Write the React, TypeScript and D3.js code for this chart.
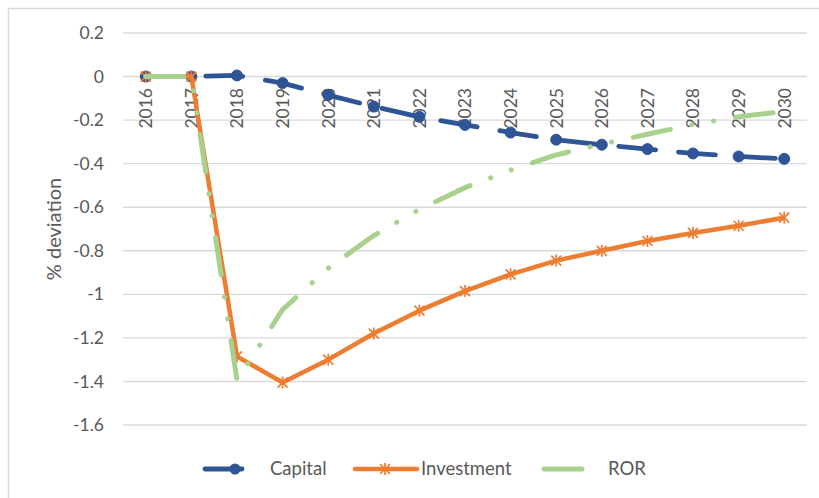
import React from 'react';
import * as d3 from 'd3';

const years = ['2016','2017','2018','2019','2020','2021','2022','2023','2024','2025','2026','2027','2028','2029','2030'];
const capital = [0, 0, 0.005, -0.03, -0.085, -0.138, -0.185, -0.222, -0.257, -0.29, -0.313, -0.333, -0.353, -0.367, -0.378];
const investment = [0, 0, -1.285, -1.405, -1.3, -1.18, -1.075, -0.985, -0.908, -0.845, -0.8, -0.755, -0.718, -0.685, -0.648];
const ror = [0, 0, -1.395, -1.07, -0.88, -0.73, -0.61, -0.51, -0.43, -0.36, -0.31, -0.265, -0.22, -0.185, -0.16];
const yTicks = [0.2, 0, -0.2, -0.4, -0.6, -0.8, -1, -1.2, -1.4, -1.6];
const seriesNames = ['Capital', 'Investment', 'ROR'];

const W = 819, H = 498;
const FONT = 'Lato, "Open Sans", sans-serif';
const GRAY = '#595959';
const BLUE = '#2F5597', ORANGE = '#ED7D31', GREEN = '#A9D18E';

export default function App() {
  const x = d3.scaleBand<string>().domain(years).range([123, 807]);
  const cx = (y: string) => (x(y) as number) + x.bandwidth() / 2;
  const y = d3.scaleLinear().domain([-1.6, 0.2]).range([425, 33]);

  const mk = (vals: number[]) =>
    d3.line<number>().x((_, i) => cx(years[i])).y((v) => y(v))(vals) as string;

  const star = (px: number, py: number, s: number, key: string | number) => (
    <g key={key} stroke={ORANGE} strokeWidth={1.7} fill="none">
      <line x1={px - s} y1={py - s} x2={px + s} y2={py + s} />
      <line x1={px - s} y1={py + s} x2={px + s} y2={py - s} />
      <line x1={px} y1={py - s * 1.2} x2={px} y2={py + s * 1.2} />
    </g>
  );

  const legY = 469;

  return (
    <svg width={W} height={H} style={{ position: 'absolute', left: 0, top: 0, display: 'block', background: '#fff' }}
      fontFamily={FONT}>
      <rect x={0} y={0} width={W} height={H} fill="#fff" />
      <rect x={8.5} y={8.5} width={W + 20} height={H + 20} fill="none" stroke="#D9D9D9" strokeWidth={1.5} />

      {/* gridlines */}
      {yTicks.map((t) => (
        <line key={'g' + t} x1={123} x2={807} y1={y(t)} y2={y(t)} stroke="#D9D9D9" strokeWidth={1.4} />
      ))}

      {/* y tick labels */}
      {yTicks.map((t) => (
        <text key={'yt' + t} x={104} y={y(t)} dy="0.35em" textAnchor="end" fontSize={17.5} fill={GRAY}>
          {String(Math.round(t * 10) / 10)}
        </text>
      ))}

      {/* y title */}
      <text transform={`translate(61, ${(y(0.2) + y(-1.6)) / 2}) rotate(-90)`} textAnchor="middle"
        fontSize={20} fill={GRAY}>% deviation</text>

      {/* x tick labels */}
      {years.map((yr) => (
        <text key={'xt' + yr} transform={`translate(${cx(yr)}, 88) rotate(-90)`} textAnchor="end" dy="0.36em"
          fontSize={17.5} fill={GRAY}>{yr}</text>
      ))}

      {/* Capital */}
      <path d={mk(capital)} fill="none" stroke={BLUE} strokeWidth={4.8} strokeDasharray="37 23"
        strokeLinecap="round" strokeLinejoin="round" />
      {capital.map((v, i) => (
        <circle key={'c' + i} cx={cx(years[i])} cy={y(v)} r={5.5} fill={BLUE} stroke={BLUE} strokeWidth={1} />
      ))}

      {/* Investment */}
      <path d={mk(investment)} fill="none" stroke={ORANGE} strokeWidth={4.5} strokeLinejoin="round" />
      {investment.map((v, i) => star(cx(years[i]), y(v), 5, 'i' + i))}

      {/* ROR */}
      <path d={mk(ror)} fill="none" stroke={GREEN} strokeWidth={5} strokeDasharray="38 22 0.1 22 0.1 22"
        strokeLinecap="round" strokeLinejoin="round" />

      {/* legend */}
      <g>
        <line x1={205} x2={263} y1={legY} y2={legY} stroke={BLUE} strokeWidth={4.8} strokeDasharray="37 23"
          strokeLinecap="round" />
        <circle cx={235} cy={legY} r={5.5} fill={BLUE} />
        <text x={270} y={legY} dy="0.35em" fontSize={18.5} fill={GRAY}>{seriesNames[0]}</text>

        <line x1={355} x2={417} y1={legY} y2={legY} stroke={ORANGE} strokeWidth={4.5} strokeLinecap="round" />
        {star(385, legY, 5, 'legstar')}
        <text x={421} y={legY} dy="0.35em" fontSize={18.5} fill={GRAY}>{seriesNames[1]}</text>

        <line x1={544} x2={582} y1={legY} y2={legY} stroke={GREEN} strokeWidth={5} strokeLinecap="round" />
        <text x={608} y={legY} dy="0.35em" fontSize={18.5} fill={GRAY}>{seriesNames[2]}</text>
      </g>
    </svg>
  );
}
